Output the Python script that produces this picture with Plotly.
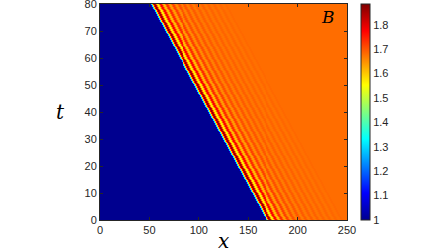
import numpy as np
import plotly.graph_objects as go

# ---- data ----
x_vals = list(range(0, 251))              # spatial grid x = 0..250
t_start, t_end = 0, 80                    # time range
front_x_t0 = 168                          # front position at t = 0
front_x_t80 = 51                          # front position at t = 80
B_ahead = 1.0                             # value ahead of the front
B_plateau = 1.68                          # value far behind the front
# profile of B behind the front (distance xi = 0,1,2,... behind it)
B_profile = [1.05, 1.30, 1.58, 1.78, 1.87, 1.82, 1.66, 1.56, 1.59, 1.70,
             1.78, 1.76, 1.67, 1.61, 1.62, 1.69, 1.74, 1.73, 1.68, 1.64,
             1.64, 1.68, 1.72, 1.715, 1.685, 1.655, 1.655, 1.68, 1.705, 1.705,
             1.685, 1.663, 1.663, 1.68, 1.70, 1.70, 1.685, 1.667, 1.667, 1.68,
             1.695, 1.695, 1.683, 1.67, 1.67, 1.68, 1.692, 1.692, 1.683, 1.672,
             1.672, 1.68, 1.69, 1.69, 1.681, 1.673, 1.673, 1.68, 1.688, 1.688,
             1.681, 1.674, 1.674, 1.68, 1.687, 1.687, 1.681, 1.675, 1.675, 1.68,
             1.685, 1.685, 1.681, 1.677, 1.677, 1.68, 1.684, 1.683, 1.68]
cb_ticks = [1, 1.1, 1.2, 1.3, 1.4, 1.5, 1.6, 1.7, 1.8]
x_ticks = [0, 50, 100, 150, 200, 250]
t_ticks = [0, 10, 20, 30, 40, 50, 60, 70, 80]
cmin, cmax = 1.0, 1.885

# ---- build grid: each row shifts the front by one x cell ----
n_rows = front_x_t0 - front_x_t80 + 1
t_vals = np.linspace(t_start, t_end, n_rows)
xa = np.array(x_vals)
prof = np.array(B_profile)
Z = []
for k in range(n_rows):
    front = front_x_t0 - k
    xi = xa - front
    row = np.full(xa.shape, B_ahead)
    behind = xi >= 0
    idx = xi[behind]
    vals = np.where(idx < len(prof), prof[np.minimum(idx, len(prof) - 1)], B_plateau)
    row[behind] = vals
    Z.append(row)
Z = np.array(Z)

jet = [[0.0, 'rgb(0,0,143)'], [0.125, 'rgb(0,0,255)'], [0.375, 'rgb(0,255,255)'],
       [0.625, 'rgb(255,255,0)'], [0.875, 'rgb(255,0,0)'], [1.0, 'rgb(128,0,0)']]

fig = go.Figure(go.Heatmap(
    x=x_vals, y=t_vals, z=Z, colorscale=jet, zmin=cmin, zmax=cmax,
    colorbar=dict(
        x=(361 - 100) / 247, xanchor='left', xpad=0, thickness=9,
        len=1, lenmode='fraction', y=0.5, yanchor='middle', ypad=0,
        tickvals=cb_ticks, ticktext=[f"{v:g}" for v in cb_ticks],
        ticks='', outlinewidth=1, outlinecolor='#262626',
        tickfont=dict(family='Liberation Sans, Arial', size=11, color='#262626'),
    ),
    hoverinfo='skip',
))

axis_common = dict(
    showline=True, mirror='ticks', linecolor='#262626', linewidth=1,
    ticks='inside', ticklen=3, tickcolor='#262626', showgrid=False, zeroline=False,
    automargin=False, ticklabeloverflow='allow',
    tickfont=dict(family='Liberation Sans, Arial', size=11, color='#262626'),
)
fig.update_xaxes(range=[0, 250], tickvals=x_ticks, **axis_common)
fig.update_yaxes(range=[-0.001, 80.001], tickvals=t_ticks, **axis_common)

serif = 'DejaVu Serif, Liberation Serif, serif'
fig.add_annotation(text='<i>x</i>', xref='paper', yref='paper', x=0.5, y=-0.095,
                   xanchor='center', yanchor='middle', showarrow=False,
                   font=dict(family=serif, size=20, color='black'))
fig.add_annotation(text='<i>t</i>', xref='paper', yref='paper', x=(60 - 100) / 247, y=0.5,
                   xanchor='center', yanchor='middle', showarrow=False,
                   font=dict(family=serif, size=20, color='black'))
fig.add_annotation(text='<i>B</i>', xref='paper', yref='paper', x=(328 - 100) / 247,
                   y=(220 - 17) / 216, xanchor='center', yanchor='middle', showarrow=False,
                   font=dict(family=serif, size=17, color='black'))

fig.update_layout(
    width=448, height=252,
    margin=dict(l=100, r=101, t=4, b=32, autoexpand=False),
    paper_bgcolor='white', plot_bgcolor='white',
)
fig.write_html("out.html", config={'displayModeBar': False, 'staticPlot': True},
               post_script="document.body.style.margin='0';document.body.style.overflow='hidden';")
